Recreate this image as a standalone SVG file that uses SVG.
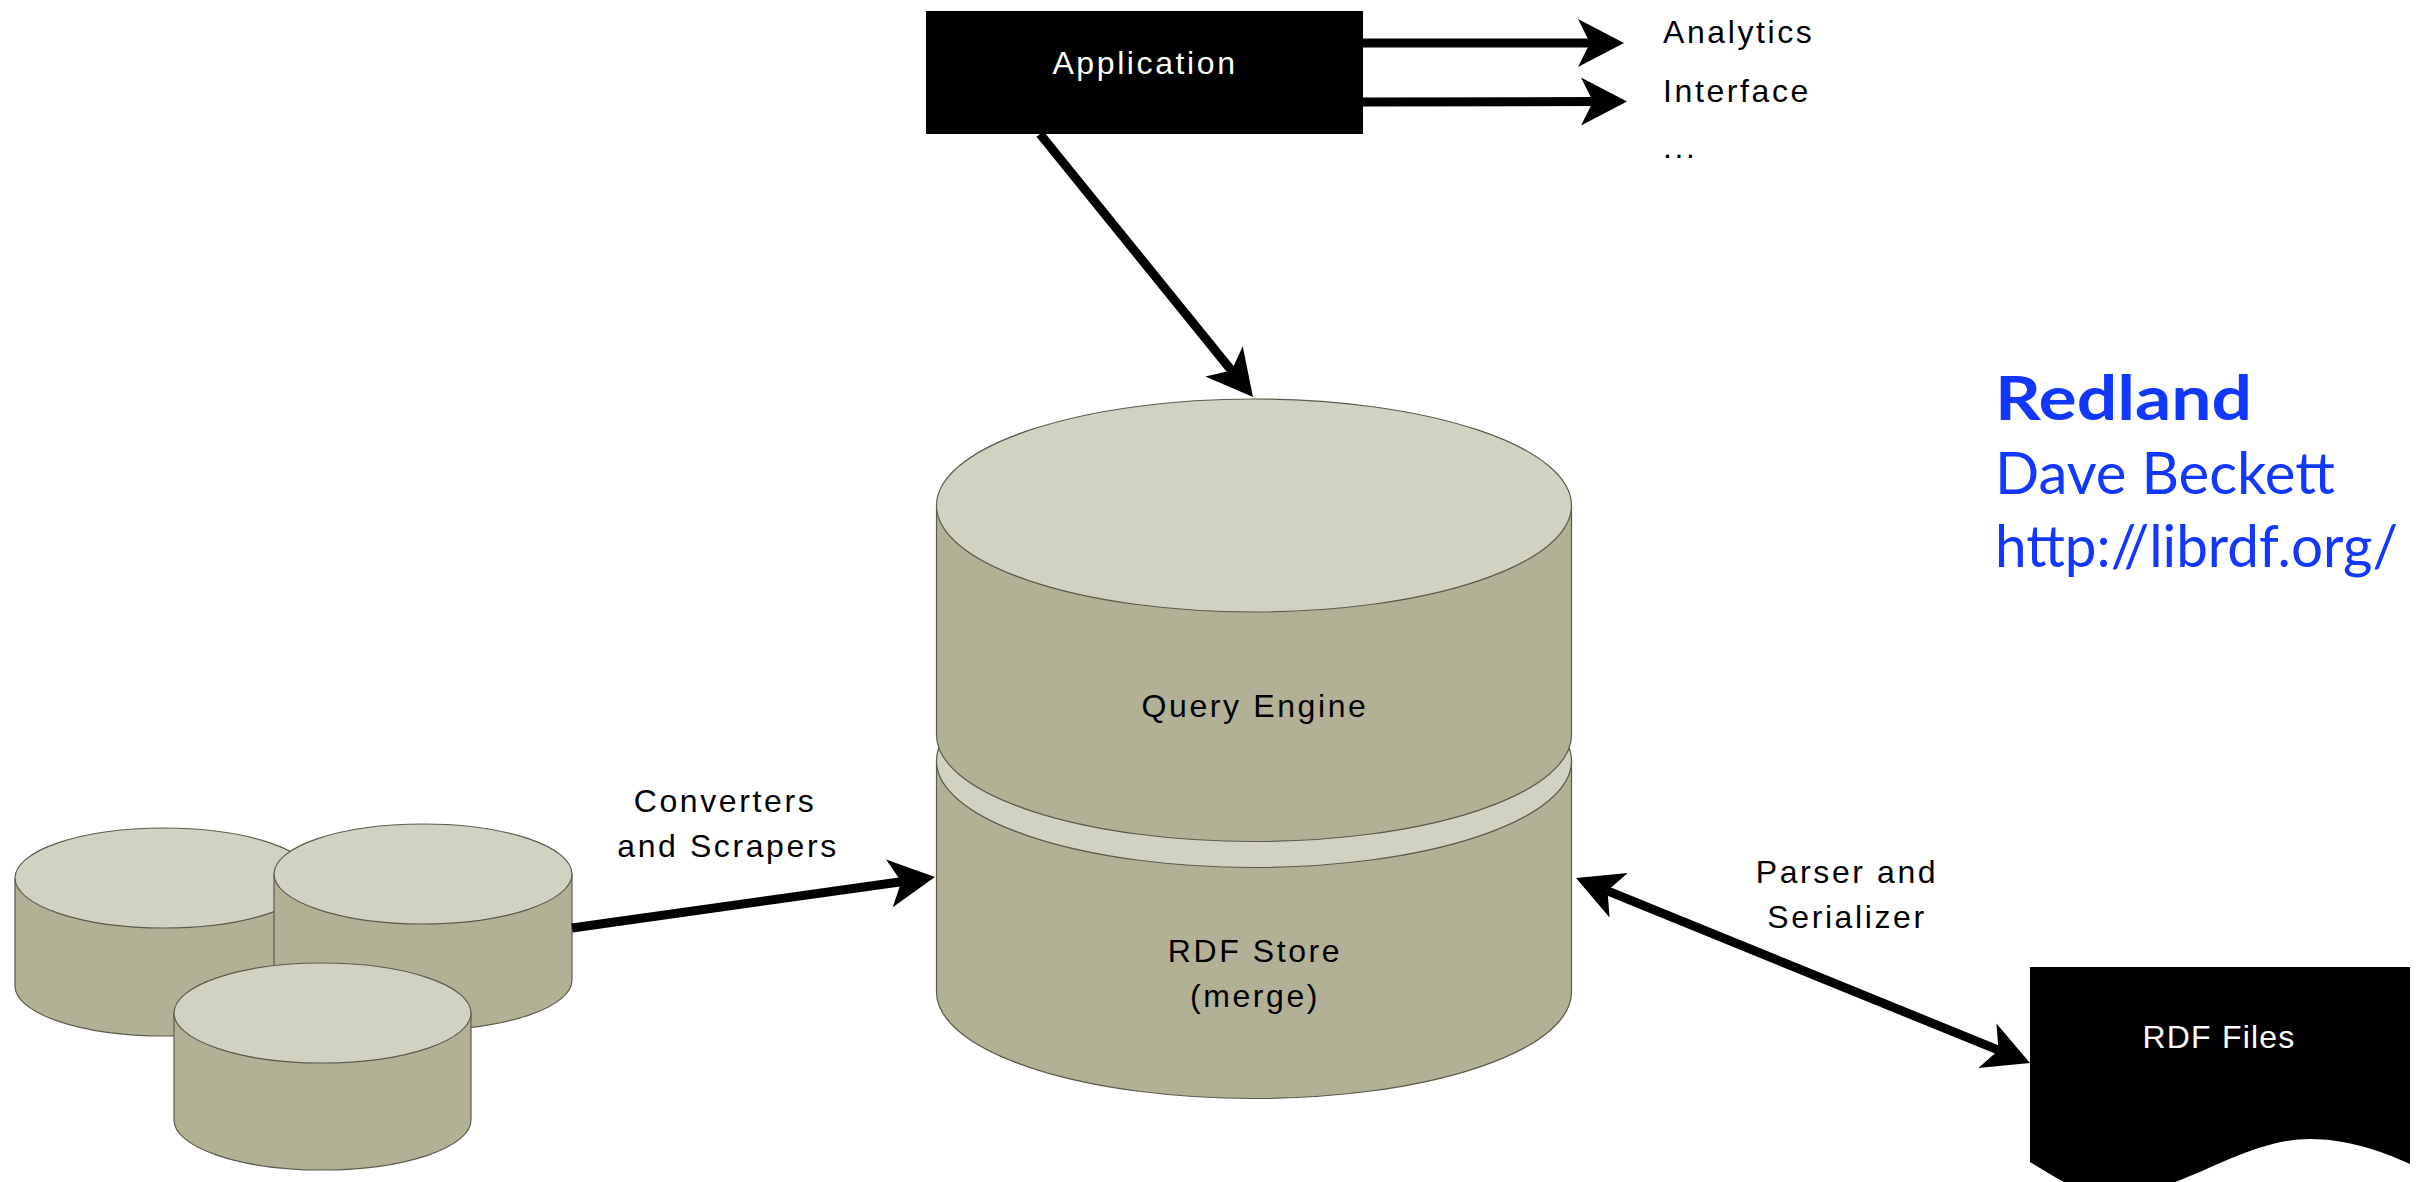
<svg xmlns="http://www.w3.org/2000/svg" width="2420" height="1182" viewBox="0 0 2420 1182">
<style>
.lbl{font-family:"Liberation Sans",Arial,Helvetica,sans-serif;font-size:32px;letter-spacing:2.6px;fill:#000}
.wlbl{font-family:"Liberation Sans",Arial,Helvetica,sans-serif;font-size:32px;letter-spacing:2.6px;fill:#fff}
.body{fill:#b2b196;stroke:#5b5b4c;stroke-width:1.2}
.top{fill:#d1d2c1;stroke:#5b5b4c;stroke-width:1.2}
.conn{stroke:#000;stroke-width:9;fill:none}
.blue{font-family:Lato,"Open Sans","Noto Sans",sans-serif;fill:#1237ff}
</style>
<defs>
<marker id="ah" markerUnits="userSpaceOnUse" viewBox="-14 -26 50 52" refX="0" refY="0" markerWidth="50" markerHeight="52" orient="auto-start-reverse">
<path d="M34,0 L-12,-24 L0,0 L-12,24 Z" fill="#000"/>
</marker>
</defs>
<rect width="2420" height="1182" fill="#fff"/>

<g id="db-a">
<path class="body" d="M15,878 V986 A149,50 0 0 0 313,986 V878 Z"/>
<ellipse class="top" cx="164" cy="878" rx="149" ry="50"/>
</g>
<g id="db-b">
<path class="body" d="M274,874 V980 A149,50 0 0 0 572,980 V874 Z"/>
<ellipse class="top" cx="423" cy="874" rx="149" ry="50"/>
</g>
<g id="db-c">
<path class="body" d="M174,1013 V1120 A148.5,50 0 0 0 471,1120 V1013 Z"/>
<ellipse class="top" cx="322.5" cy="1013" rx="148.5" ry="50"/>
</g>

<g id="rdf-store">
<path class="body" d="M936.5,761 V992 A317.5,106.5 0 0 0 1571.5,992 V761 Z"/>
<ellipse class="top" cx="1254" cy="761" rx="317.5" ry="106.5"/>
<text class="lbl" x="1255" y="962" text-anchor="middle">RDF Store</text>
<text class="lbl" x="1255" y="1007" text-anchor="middle">(merge)</text>
</g>
<g id="query-engine">
<path class="body" d="M936.5,505.5 V735 A317.5,106.5 0 0 0 1571.5,735 V505.5 Z"/>
<ellipse class="top" cx="1254" cy="505.5" rx="317.5" ry="106.5"/>
<text class="lbl" x="1255" y="717" text-anchor="middle">Query Engine</text>
</g>

<g id="application">
<rect x="926" y="11" width="437" height="123" fill="#000"/>
<text class="wlbl" x="1145" y="74" text-anchor="middle">Application</text>
</g>

<g id="rdf-files">
<path d="M2030,967 H2410 V1164 C2380,1150 2345,1139 2310,1139 C2240,1139 2180,1196 2110,1196 C2080,1196 2055,1176 2030,1162 Z" fill="#000"/>
<text class="wlbl" x="2219" y="1048" text-anchor="middle" style="letter-spacing:1.2px">RDF Files</text>
</g>

<g id="outputs">
<text class="lbl" x="1663" y="43">Analytics</text>
<text class="lbl" x="1663" y="102">Interface</text>
<text class="lbl" x="1663" y="158">...</text>
</g>

<g id="connectors">
<line class="conn" x1="1363" y1="43" x2="1590" y2="43" marker-end="url(#ah)"/>
<line class="conn" x1="1363" y1="102" x2="1593" y2="101.5" marker-end="url(#ah)"/>
<line class="conn" x1="1040" y1="134" x2="1231.6" y2="370.6" marker-end="url(#ah)"/>
<line class="conn" x1="572" y1="928" x2="901.3" y2="881.7" marker-end="url(#ah)"/>
<line class="conn" x1="1607.5" y1="890.8" x2="1998.5" y2="1050.2" marker-start="url(#ah)" marker-end="url(#ah)"/>
<text class="lbl" x="725" y="812" text-anchor="middle">Converters</text>
<text class="lbl" x="728" y="857" text-anchor="middle">and Scrapers</text>
<text class="lbl" x="1847" y="883" text-anchor="middle">Parser and</text>
<text class="lbl" x="1847" y="928" text-anchor="middle">Serializer</text>
</g>

<g id="credits">
<text class="blue" x="1995" y="420" font-size="62" font-weight="bold" textLength="257" lengthAdjust="spacingAndGlyphs">Redland</text>
<text class="blue" x="1995" y="494" font-size="58" textLength="340" lengthAdjust="spacingAndGlyphs">Dave Beckett</text>
<text class="blue" x="1995" y="567" font-size="58" textLength="403" lengthAdjust="spacingAndGlyphs">http://librdf.org/</text>
</g>
</svg>
